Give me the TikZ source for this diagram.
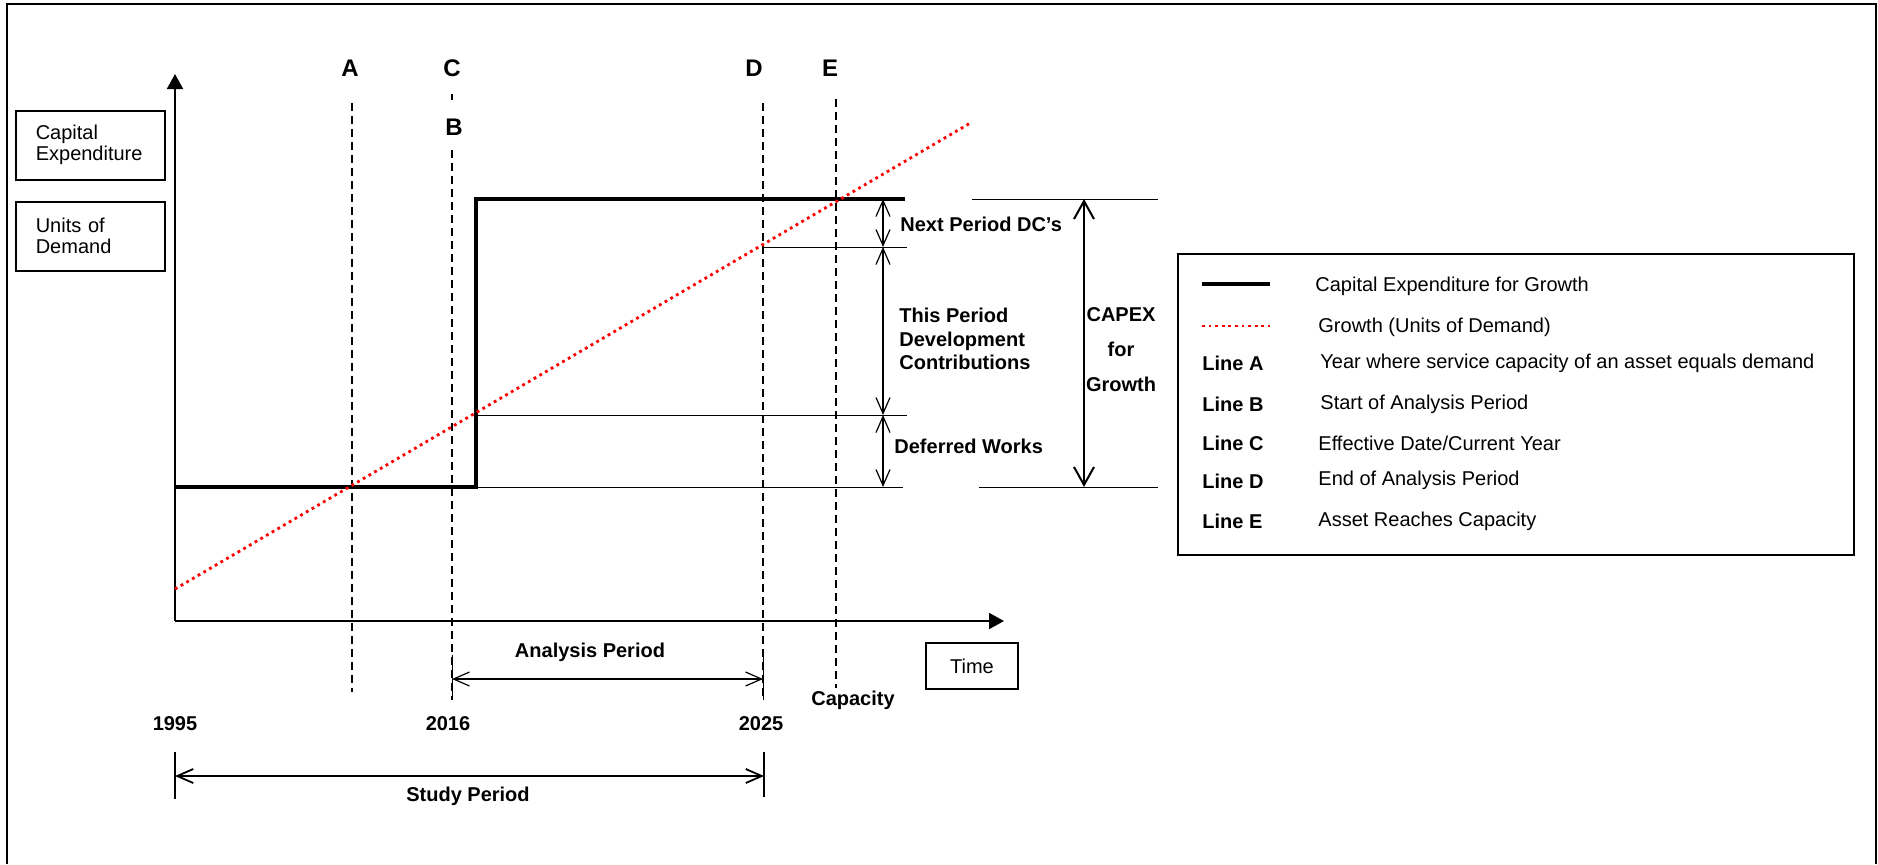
\documentclass[tikz,border=0pt]{standalone}
\usepackage{fontspec}
\setmainfont{Liberation Sans}
\usetikzlibrary{arrows.meta, positioning}

\begin{document}
\begin{tikzpicture}[
  x=0.5pt, y=-0.5pt,
  font=\fontsize{10}{12}\selectfont,
  bold/.style={font=\fontsize{10}{12}\selectfont\bfseries, inner sep=1pt},
  letter/.style={font=\fontsize{12}{14}\selectfont\bfseries, inner sep=1pt},
  plain/.style={inner sep=1pt},
  sidebox/.style={draw, line width=0.8pt, anchor=north west, minimum width=74.5pt, minimum height=34.5pt,
    text width=54.5pt, inner xsep=10pt, align=left, font=\fontsize{10}{10.5}\selectfont},
  axis/.style={line width=1pt, -{Triangle[length=7.5pt,width=8pt]}},
  capex/.style={line width=1.6pt},
  demand/.style={red, line width=1.4pt, dash pattern=on 1.4pt off 1.9pt},
  marker/.style={line width=0.8pt, dash pattern=on 4pt off 2.5pt},
  guide/.style={line width=0.5pt},
  dim/.style={line width=0.6pt, {Straight Barb[length=8pt,width=7pt]}-{Straight Barb[length=8pt,width=7pt]}},
  bigdim/.style={line width=1pt, {Straight Barb[length=9pt,width=10pt]}-{Straight Barb[length=9pt,width=10pt]}}
]
  \useasboundingbox (0,0) rectangle (1878,864);
  \draw[line width=1pt] (7,864) -- (7,4) -- (1876,4) -- (1876,864);

  % axes
  \coordinate (O) at (175,621);
  \coordinate (ytop) at (175,74);
  \coordinate (xend) at (1004,621);
  \draw[axis] (O) -- (ytop);
  \draw[axis] (O) -- (xend);

  \node[sidebox] (capbox) at (15,110) {Capital\\Expenditure};
  \node[sidebox] (unitbox) at (15,201) {Units of\\Demand};
  \node[draw, line width=0.8pt, minimum width=46pt, minimum height=23pt] (timebox) at (972,666) {Time};

  % year lines
  \node[letter] (lblA) at (350,68) {A};
  \node[letter] (lblC) at (452,68) {C};
  \node[letter] (lblB) at (454,127) {B};
  \node[letter] (lblD) at (754,68) {D};
  \node[letter] (lblE) at (830,68) {E};
  \draw[marker] (352,103) -- (352,692);
  \draw[marker] (452,94) -- (452,100);
  \draw[marker] (452,150) -- (452,700);
  \draw[marker] (763,103) -- (763,700);
  \draw[marker] (836,99) -- (836,688);

  % capex step and demand
  \coordinate (s0) at (175,487);
  \coordinate (s1) at (476,487);
  \coordinate (s2) at (476,199);
  \coordinate (s3) at (905,199);
  \draw[guide] (s1) -- (903,487);
  \draw[guide] (476,415) -- (907,415);
  \draw[guide] (763,247) -- (907,247);
  \draw[capex] (s0) -- (s1) -- (s2) -- (s3);
  \draw[demand] (175,589) -- (972,122);

  % contributions
  \draw[dim] (883,199) -- (883,247);
  \draw[dim] (883,247) -- (883,415);
  \draw[dim] (883,415) -- (883,487);
  \node[bold, anchor=west] (nextdc) at (898,224) {Next Period DC’s};
  \node[bold, anchor=west, align=left, font=\fontsize{10}{11.75}\selectfont\bfseries] (thisdc) at (897,339)
    {This Period\\Development\\Contributions};
  \node[bold, anchor=west] (deferred) at (892,446) {Deferred Works};

  \draw[guide] (972,199) -- (1158,199);
  \draw[guide] (979,487) -- (1158,487);
  \draw[bigdim] (1084,199) -- (1084,487);
  \node[bold, align=center, font=\fontsize{10}{17.5}\selectfont\bfseries] (capexlbl) at (1121,350) {CAPEX\\for\\Growth};

  % periods
  \draw[guide] (452,655) -- (452,700);
  \draw[guide] (763,655) -- (763,700);
  \draw[dim] (452,679) -- (763,679);
  \node[bold] (analysis) at (590,652) {Analysis Period};
  \node[bold] (capacity) at (853,700) {Capacity};
  \node[bold] (y1995) at (175,724) {1995};
  \node[bold] (y2016) at (448,724) {2016};
  \node[bold] (y2025) at (761,724) {2025};
  \draw[guide, line width=0.8pt] (175,752) -- (175,799);
  \draw[guide, line width=0.8pt] (764,752) -- (764,797);
  \draw[dim, line width=0.9pt] (175,776) -- (764,776);
  \node[bold] (study) at (468,796) {Study Period};

  % legend
  \node[draw, line width=1pt, anchor=north west, minimum width=338pt, minimum height=150.5pt, inner sep=0pt] (legend) at (1177,253) {};
  \draw[capex] (1202,284) -- (1270,284);
  \draw[demand, line width=1.3pt] (1202,326) -- (1270,326);
  \node[plain, anchor=west] (legcapex) at (1313,286) {Capital Expenditure for Growth};
  \node[plain, anchor=west] (leggrowth) at (1316,327) {Growth (Units of Demand)};
  \node[bold, anchor=west] (keyA) at (1200,363) {Line A};
  \node[bold, anchor=west] (keyB) at (1200,404) {Line B};
  \node[bold, anchor=west] (keyC) at (1200,443) {Line C};
  \node[bold, anchor=west] (keyD) at (1200,481) {Line D};
  \node[bold, anchor=west] (keyE) at (1200,521) {Line E};
  \node[plain, anchor=west] (descA) at (1318,363) {Year where service capacity of an asset equals demand};
  \node[plain, anchor=west] (descB) at (1318,404) {Start of Analysis Period};
  \node[plain, anchor=west] (descC) at (1316,443) {Effective Date/Current Year};
  \node[plain, anchor=west] (descD) at (1316,480) {End of Analysis Period};
  \node[plain, anchor=west] (descE) at (1316,521) {Asset Reaches Capacity};
\end{tikzpicture}
\end{document}
